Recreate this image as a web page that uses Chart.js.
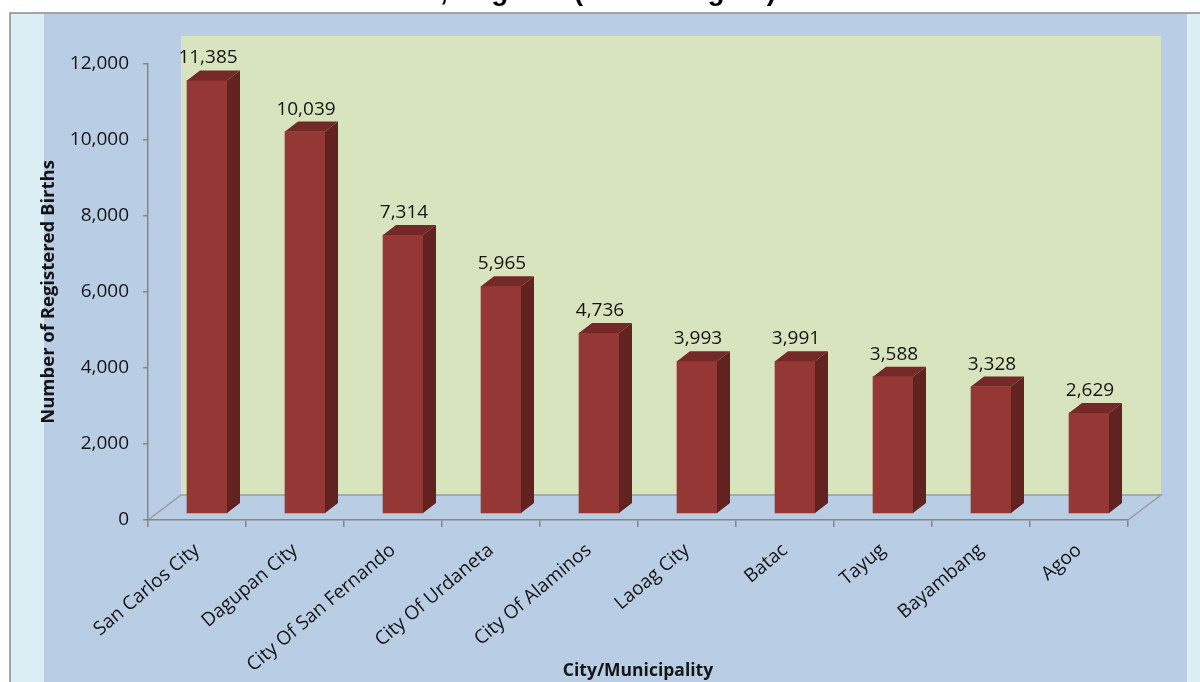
<!DOCTYPE html>
<html><head><meta charset="utf-8">
<script src="https://cdn.jsdelivr.net/npm/chart.js@4/dist/chart.umd.min.js"></script>
<style>
html,body{margin:0;padding:0;background:#fff;overflow:hidden;}
#wrap{position:relative;width:1200px;height:682px;}
canvas{position:absolute;left:0;top:0;}
#title{position:absolute;top:0;left:0;width:1200px;height:12px;overflow:hidden;}
#title div{position:absolute;white-space:nowrap;font:bold 28px "Liberation Sans",Arial,sans-serif;color:#000;line-height:32px;}
</style></head><body>
<div id="wrap"><canvas id="c" width="1200" height="682"></canvas>
<div id="title"><div id="t1">Top 10 Cities/Municipalities with the Highest Number of Registered</div><div id="t2">Births, Region I (Ilocos Region)</div></div></div>
<script>
const categories = ['San Carlos City','Dagupan City','City Of San Fernando','City Of Urdaneta','City Of Alaminos','Laoag City','Batac','Tayug','Bayambang','Agoo'];
const births = [11385,10039,7314,5965,4736,3993,3991,3588,3328,2629];
const yMax = 12000;
const yStep = 2000;

// title placement
(function(){
  const m = document.createElement('canvas').getContext('2d');
  m.font = 'bold 28px "Liberation Sans", Arial, sans-serif';
  const w = m.measureText('Births').width;
  const t2 = document.getElementById('t2');
  t2.style.left = (440 - w) + 'px';
  t2.style.top = '-25px';
  const t1 = document.getElementById('t1');
  t1.style.left = '200px';
  t1.style.top = '-60px';
})();

const DX = 33, DY = 25;      // floor depth
const BDX = 13, BDY = 10;    // bar depth
const fmt = v => v.toLocaleString('en-US');

const threeD = {
  id: 'threeD',
  beforeDraw(chart) {
    const ctx = chart.ctx, xs = chart.scales.x, ys = chart.scales.y;
    ctx.save();
    ctx.fillStyle = '#ffffff'; ctx.fillRect(0, 0, 1200, 682);
    ctx.fillStyle = '#DBEEF4'; ctx.fillRect(10, 13, 1190, 669);
    ctx.fillStyle = '#B9CDE5'; ctx.fillRect(44, 14, 1143, 668);
    ctx.strokeStyle = '#8a8a8a'; ctx.lineWidth = 1.5;
    ctx.beginPath(); ctx.moveTo(10, 682); ctx.lineTo(10, 13); ctx.lineTo(1200, 13); ctx.stroke();
    const l = xs.left, r = xs.right, b = ys.bottom, t = ys.top;
    ctx.fillStyle = '#D7E4BD';
    ctx.fillRect(l + DX, t - DY - 3, r - l, b - t + 3);
    ctx.strokeStyle = '#9b9b9b'; ctx.lineWidth = 1.5;
    ctx.beginPath();
    ctx.moveTo(l, b); ctx.lineTo(l + DX, b - DY); ctx.lineTo(r + DX, b - DY); ctx.lineTo(r, b);
    ctx.stroke();
    ctx.restore();
  },
  afterDatasetsDraw(chart) {
    const ctx = chart.ctx;
    const meta = chart.getDatasetMeta(0);
    ctx.save();
    meta.data.forEach((el, i) => {
      const p = el.getProps(['x', 'y', 'base', 'width'], true);
      const L = p.x - p.width / 2, R = p.x + p.width / 2;
      ctx.fillStyle = '#612220';
      ctx.beginPath();
      ctx.moveTo(R, p.y); ctx.lineTo(R + BDX, p.y - BDY); ctx.lineTo(R + BDX, p.base - BDY); ctx.lineTo(R, p.base);
      ctx.closePath(); ctx.fill();
      ctx.fillStyle = '#732927';
      ctx.beginPath();
      ctx.moveTo(L, p.y); ctx.lineTo(L + BDX, p.y - BDY); ctx.lineTo(R + BDX, p.y - BDY); ctx.lineTo(R, p.y);
      ctx.closePath(); ctx.fill();
      ctx.fillStyle = '#141414';
      ctx.font = '19px "Open Sans"';
      ctx.textAlign = 'center';
      ctx.textBaseline = 'alphabetic';
      ctx.fillText(fmt(births[i]), p.x + 1, p.y - BDY - 7);
    });
    ctx.restore();
  }
};

new Chart(document.getElementById('c'), {
  type: 'bar',
  data: {
    labels: categories,
    datasets: [{
      data: births.map((v, i) => ({ x: i, y: v })),
      xAxisID: 'xb', yAxisID: 'yb',
      backgroundColor: '#953735',
      borderWidth: 0,
      barThickness: 40
    }]
  },
  options: {
    responsive: false, animation: false, devicePixelRatio: 1,
    layout: { padding: { left: 38, top: 64, right: 72, bottom: 0 } },
    plugins: { legend: { display: false }, tooltip: { enabled: false } },
    scales: {
      x: {
        type: 'category', position: 'bottom', offset: true,
        grid: { display: true, drawOnChartArea: false, drawTicks: true, tickLength: 7, color: '#878787', lineWidth: 1.5, offset: true },
        border: { display: true, color: '#878787', width: 1.5 },
        ticks: { minRotation: 40, maxRotation: 40, autoSkip: false, color: '#141414', font: { family: 'Open Sans', size: 19 }, padding: 12 },
        title: { display: true, text: 'City/Municipality', color: '#141414', font: { family: 'Open Sans', size: 17.5, weight: 'bold' }, padding: { top: 0, bottom: 0 } },
        afterFit(s) { s.height = 162; }
      },
      y: {
        type: 'linear', position: 'left', min: 0, max: yMax,
        grid: { display: true, drawOnChartArea: false, drawTicks: true, tickLength: 5, color: '#878787', lineWidth: 1.5 },
        border: { display: true, color: '#878787', width: 1.5 },
        ticks: { stepSize: yStep, color: '#141414', font: { family: 'Open Sans', size: 19 }, padding: 14 },
        title: { display: true, text: 'Number of Registered Births', color: '#141414', font: { family: 'Open Sans', size: 18.5, weight: 'bold' }, padding: { top: 0, bottom: 0 } },
        afterFit(s) { s.width = 110; }
      },
      xb: { type: 'linear', display: false, offset: false, min: -0.5 - 10 / 98, max: 9.5 - 10 / 98 },
      yb: { type: 'linear', display: false, min: -184, max: yMax - 184 }
    }
  },
  plugins: [threeD]
});
</script>
</body></html>
